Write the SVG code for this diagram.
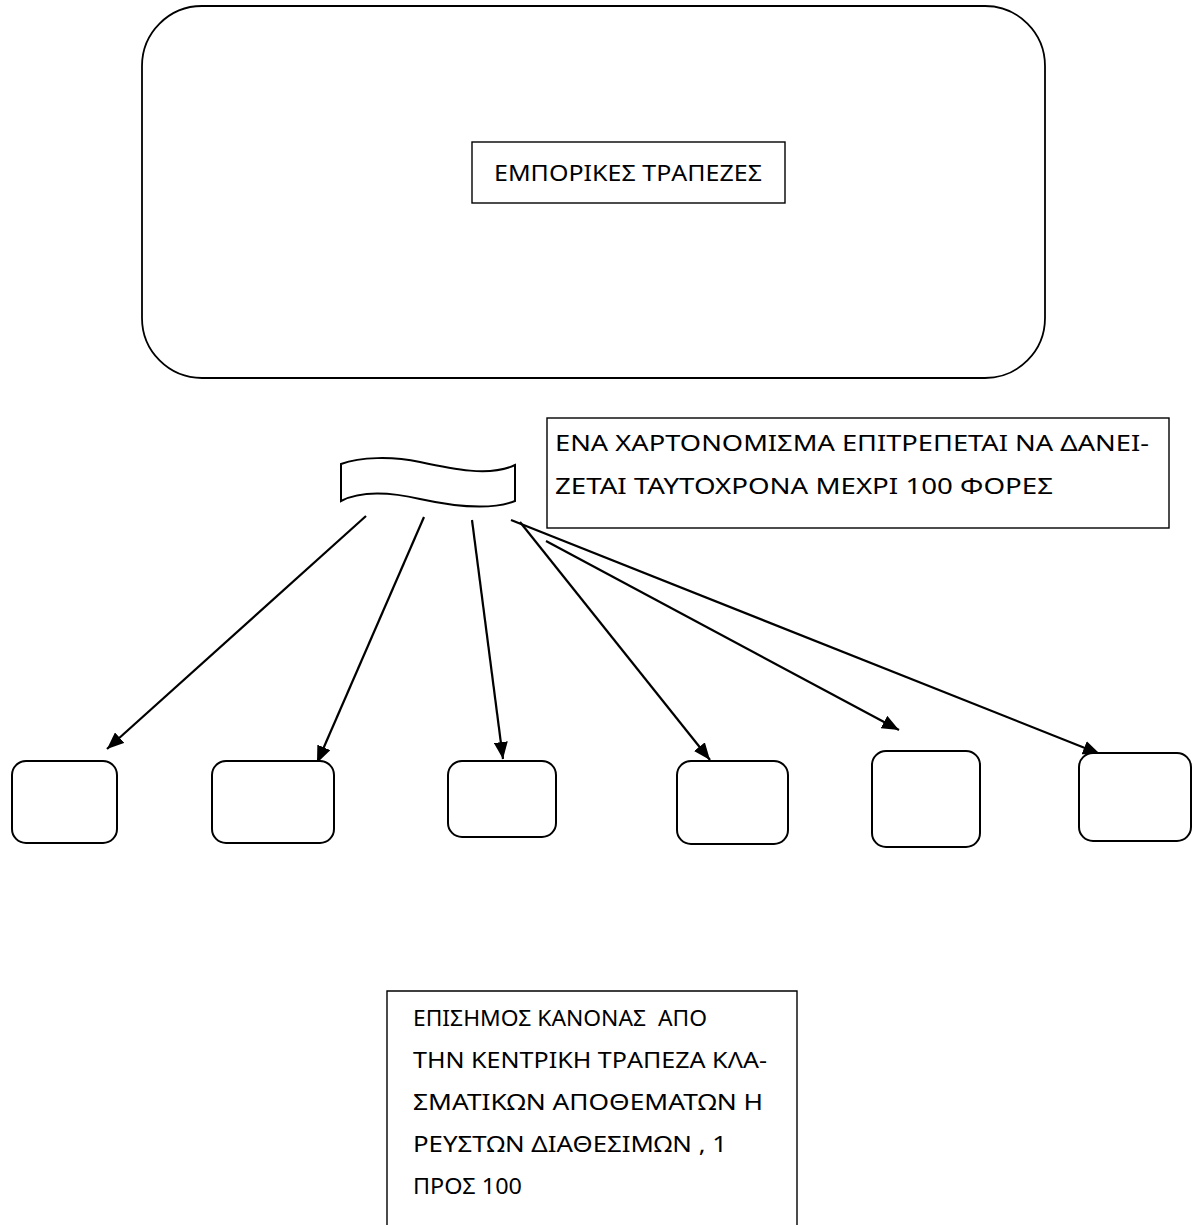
<svg xmlns="http://www.w3.org/2000/svg" width="1195" height="1225" viewBox="0 0 1195 1225">
<style>
.txt{font-family:"Noto Sans","DejaVu Sans",sans-serif;font-size:22px;fill:#000}
.rbox{fill:#fff;stroke:#000;stroke-width:2}
.tbox{fill:#fff;stroke:#000;stroke-width:1.4}
.conn{fill:none;stroke:#000;stroke-width:2.2}
</style>
<defs>
<marker id="ah" markerUnits="userSpaceOnUse" markerWidth="18" markerHeight="14" refX="17" refY="7" orient="auto">
<path d="M0,0 L17,7 L0,14 z" fill="#000"/>
</marker>
</defs>
<rect width="1195" height="1225" fill="#fff"/>
<g id="banks">
<rect class="rbox" x="142" y="6" width="903" height="372" rx="60" ry="60" style="stroke-width:1.8"/>
</g>
<g id="banks-label">
<rect class="tbox" x="472" y="142" width="313" height="61"/>
<text class="txt" x="494" y="181" textLength="268" lengthAdjust="spacingAndGlyphs">ΕΜΠΟΡΙΚΕΣ ΤΡΑΠΕΖΕΣ</text>
</g>
<g id="note-top">
<rect class="tbox" x="547" y="418" width="622" height="110"/>
<text class="txt" x="555" y="451" textLength="594" lengthAdjust="spacingAndGlyphs">ΕΝΑ ΧΑΡΤΟΝΟΜΙΣΜΑ ΕΠΙΤΡΕΠΕΤΑΙ ΝΑ ΔΑΝΕΙ-</text>
<text class="txt" x="555" y="494" textLength="498" lengthAdjust="spacingAndGlyphs">ΖΕΤΑΙ ΤΑΥΤΟΧΡΟΝΑ ΜΕΧΡΙ 100 ΦΟΡΕΣ</text>
</g>
<g id="banknote">
<path d="M341,464 C360,457 392,456 420,462 C452,469 490,477 515,465 L515,501 C490,511 452,506 420,499 C390,492 360,491 341,501 Z" fill="#fff" stroke="#000" stroke-width="2"/>
</g>
<g id="connectors">
<line class="conn" x1="366" y1="516" x2="107" y2="749" marker-end="url(#ah)"/>
<line class="conn" x1="424" y1="517" x2="317" y2="763" marker-end="url(#ah)"/>
<line class="conn" x1="472" y1="520" x2="503" y2="759" marker-end="url(#ah)"/>
<line class="conn" x1="520" y1="522" x2="710" y2="760" marker-end="url(#ah)"/>
<line class="conn" x1="546" y1="541" x2="899" y2="730" marker-end="url(#ah)"/>
<line class="conn" x1="511" y1="520" x2="1100" y2="754" marker-end="url(#ah)"/>
</g>
<g id="bank1"><rect class="rbox" x="12" y="761" width="105" height="82" rx="14" ry="14"/></g>
<g id="bank2"><rect class="rbox" x="212" y="761" width="122" height="82" rx="14" ry="14"/></g>
<g id="bank3"><rect class="rbox" x="448" y="761" width="108" height="76" rx="14" ry="14"/></g>
<g id="bank4"><rect class="rbox" x="677" y="761" width="111" height="83" rx="14" ry="14"/></g>
<g id="bank5"><rect class="rbox" x="872" y="751" width="108" height="96" rx="14" ry="14"/></g>
<g id="bank6"><rect class="rbox" x="1079" y="753" width="112" height="88" rx="14" ry="14"/></g>
<g id="note-bottom">
<path class="tbox" d="M387,1226 L387,991 L797,991 L797,1226"/>
<text class="txt" x="413" y="1026" textLength="294" lengthAdjust="spacingAndGlyphs" xml:space="preserve">ΕΠΙΣΗΜΟΣ ΚΑΝΟΝΑΣ  ΑΠΟ</text>
<text class="txt" x="413" y="1068" textLength="354" lengthAdjust="spacingAndGlyphs">ΤΗΝ ΚΕΝΤΡΙΚΗ ΤΡΑΠΕΖΑ ΚΛΑ-</text>
<text class="txt" x="413" y="1110" textLength="350" lengthAdjust="spacingAndGlyphs">ΣΜΑΤΙΚΩΝ ΑΠΟΘΕΜΑΤΩΝ Η</text>
<text class="txt" x="413" y="1152" textLength="314" lengthAdjust="spacingAndGlyphs">ΡΕΥΣΤΩΝ ΔΙΑΘΕΣΙΜΩΝ , 1</text>
<text class="txt" x="413" y="1194" textLength="109" lengthAdjust="spacingAndGlyphs">ΠΡΟΣ 100</text>
</g>
</svg>
